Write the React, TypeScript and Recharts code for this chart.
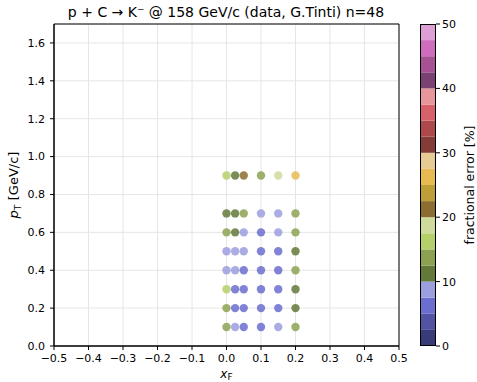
import React from 'react'
import {
  ScatterChart,
  Scatter,
  XAxis,
  YAxis,
  CartesianGrid,
  Cell,
  ReferenceArea,
  Customized,
  BarChart,
  Bar,
} from 'recharts'

const FONT = 'DejaVu Sans, sans-serif'

// x_F columns and p_T rows of the measurement grid
const xFValues = [0, 0.025, 0.05, 0.1, 0.15, 0.2]
const pTValues = [0.1, 0.2, 0.3, 0.4, 0.5, 0.6, 0.7, 0.9]

// fractional error [%] per p_T row, one entry per x_F column
const errPT01 = [14, 9, 6, 6, 9, 14]
const errPT02 = [14, 6, 6, 6, 6, 11]
const errPT03 = [16, 6, 6, 6, 6, 11]
const errPT04 = [9, 9, 6, 6, 6, 14]
const errPT05 = [9, 9, 9, 6, 6, 11]
const errPT06 = [14, 11, 9, 6, 9, 14]
const errPT07 = [11, 11, 14, 9, 9, 14]
const errPT09 = [16, 11, 21, 14, 19, 26]
const errRows = [errPT01, errPT02, errPT03, errPT04, errPT05, errPT06, errPT07, errPT09]

const xTicks = [-0.5, -0.4, -0.3, -0.2, -0.1, 0, 0.1, 0.2, 0.3, 0.4, 0.5]
const yTicks = [0, 0.2, 0.4, 0.6, 0.8, 1.0, 1.2, 1.4, 1.6]
const cbTicks = [0, 10, 20, 30, 40, 50]

// tab20b
const TAB20B = [
  '#393b79', '#5254a3', '#6b6ecf', '#9c9ede',
  '#637939', '#8ca252', '#b5cf6b', '#cedb9c',
  '#8c6d31', '#bd9e39', '#e7ba52', '#e7cb94',
  '#843c39', '#ad494a', '#d6616b', '#e7969c',
  '#7b4173', '#a55194', '#ce6dbd', '#de9ed6',
]

const colorFor = (v: number) => TAB20B[Math.max(0, Math.min(19, Math.floor(v / 2.5)))]

const points = pTValues.flatMap((pt, r) =>
  xFValues.map((xf, c) => ({ xF: xf, pT: pt, err: errRows[r][c] }))
)

const cbRow: Record<string, number | string> = { name: 'cb' }
TAB20B.forEach((_, i) => {
  cbRow[`s${i}`] = 2.5
})
const cbData = [cbRow]

const fmt = (v: number) => (v < 0 ? '\u2212' + Math.abs(v).toFixed(1) : v.toFixed(1))

const tickStyle = { fill: '#000', fontSize: 11, fontFamily: FONT }

const Title = () => (
  <text x={226} y={17} textAnchor="middle" fontSize={14} fontFamily={FONT} fill="#000">
    p + C → K⁻ @ 158 GeV/c (data, G.Tinti) n=48
  </text>
)

const App = () => {
  return (
    <div style={{ position: 'absolute', left: 0, top: 0, width: 477, height: 382, background: '#fff' }}>
      <ScatterChart
        width={477}
        height={382}
        margin={{ top: 24, right: 78, bottom: 0, left: 0 }}
      >
        <CartesianGrid stroke="#e6e6e6" strokeWidth={1} />
        <XAxis
          type="number"
          dataKey="xF"
          domain={[-0.5, 0.5]}
          ticks={xTicks}
          tickFormatter={fmt}
          height={36}
          tick={tickStyle}
          tickSize={4}
          tickMargin={4}
          tickLine={{ stroke: '#000' }}
          axisLine={{ stroke: '#000' }}
          allowDataOverflow
          label={{
            content: (props: any) => {
              const { x, y, width } = props.viewBox
              return (
                <text x={x + width / 2} y={y + 32} textAnchor="middle" fontFamily={FONT} fill="#000">
                  <tspan fontSize={12} fontStyle="italic">x</tspan>
                  <tspan fontSize={9} dy={2}>F</tspan>
                </text>
              )
            },
          }}
        />
        <YAxis
          type="number"
          dataKey="pT"
          domain={[0, 1.7]}
          ticks={yTicks}
          tickFormatter={fmt}
          width={54}
          tick={tickStyle}
          tickSize={4}
          tickMargin={5}
          tickLine={{ stroke: '#000' }}
          axisLine={{ stroke: '#000' }}
          allowDataOverflow
          label={{
            content: (props: any) => {
              const { y, height } = props.viewBox
              const cx = 18
              const cy = y + height / 2
              return (
                <text
                  x={cx}
                  y={cy}
                  textAnchor="middle"
                  fontFamily={FONT}
                  fill="#000"
                  transform={`rotate(-90 ${cx} ${cy})`}
                >
                  <tspan fontSize={13} fontStyle="italic">p</tspan>
                  <tspan fontSize={9.5} dy={3}>T</tspan>
                  <tspan fontSize={13} dy={-3}> [GeV/c]</tspan>
                </text>
              )
            },
          }}
        />
        <ReferenceArea x1={-0.5} x2={0.5} y1={0} y2={1.7} fill="none" stroke="#000" strokeOpacity={1} />
        <Scatter
          data={points}
          isAnimationActive={false}
          shape={(props: any) => (
            <circle cx={props.cx} cy={props.cy} r={4.2} fill={props.fill} fillOpacity={0.85} />
          )}
        >
          {points.map((p, i) => (
            <Cell key={`pt-${i}`} fill={colorFor(p.err)} />
          ))}
        </Scatter>
        <Customized component={Title} />
      </ScatterChart>

      <div style={{ position: 'absolute', left: 420, top: 0 }}>
        <BarChart
          width={57}
          height={382}
          data={cbData}
          margin={{ top: 24, right: 0, bottom: 36, left: 0 }}
          barCategoryGap={0}
        >
          <XAxis dataKey="name" hide />
          <YAxis
            orientation="right"
            type="number"
            domain={[0, 50]}
            ticks={cbTicks}
            width={41}
            tick={tickStyle}
            tickSize={4}
            tickLine={{ stroke: '#000' }}
            axisLine={false}
            label={{
              content: (props: any) => {
                const { x, y, width, height } = props.viewBox
                const cx = x + width - 3
                const cy = y + height / 2
                return (
                  <text
                    x={cx}
                    y={cy}
                    textAnchor="middle"
                    fontSize={12.5}
                    fontFamily={FONT}
                    fill="#000"
                    transform={`rotate(-90 ${cx} ${cy})`}
                  >
                    fractional error [%]
                  </text>
                )
              },
            }}
          />
          {TAB20B.map((c, i) => (
            <Bar key={`s${i}`} dataKey={`s${i}`} stackId="cb" fill={c} isAnimationActive={false} />
          ))}
        </BarChart>
        <div
          style={{
            position: 'absolute',
            left: 0,
            top: 24,
            width: 16,
            height: 322,
            border: '1px solid #000',
            boxSizing: 'border-box',
          }}
        />
      </div>
    </div>
  )
}

export default App
